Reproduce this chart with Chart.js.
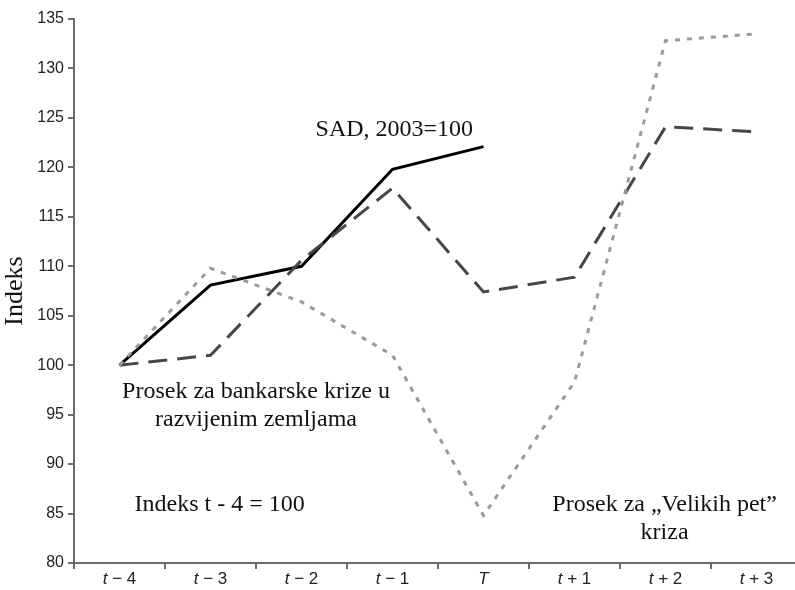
<!DOCTYPE html>
<html lang="sr">
<head>
  <meta charset="UTF-8">
  <title>Indeks - bankarske krize</title>
  <style>
    html, body {
      margin: 0;
      padding: 0;
      background: #ffffff;
      overflow: hidden;
    }
    #wrap {
      width: 810px;
      height: 590px;
    }
  </style>
  <script src="https://cdn.jsdelivr.net/npm/chart.js"></script>
</head>
<body>
  <div id="wrap">
    <canvas id="crisisChart" width="810" height="590"></canvas>
  </div>

  <script>
    // categories (years around the crisis)
    const periods = ['t − 4', 't − 3', 't − 2', 't − 1', 'T', 't + 1', 't + 2', 't + 3'];

    // series values
    const sadValues = [100, 108.1, 110.0, 119.8, 122.1];
    const bankCrisisAvg = [100, 101.0, 110.6, 117.9, 107.4, 108.9, 124.1, 123.6];
    const bigFiveAvg = [100, 109.8, 106.4, 101.0, 84.8, 98.3, 132.8, 133.5];

    const yTicks = [80, 85, 90, 95, 100, 105, 110, 115, 120, 125, 130, 135];

    const axisColor = '#6b6b6b';
    const serif = '"Liberation Serif", "Times New Roman", serif';
    const sans = '"Liberation Sans", Arial, sans-serif';

    // free text notes on the chart, placed in data coordinates (category index, value)
    const notes = [
      { lines: ['SAD, 2003=100'], at: 3.02, value: 123.8 },
      { lines: ['Prosek za bankarske krize u', 'razvijenim zemljama'], at: 1.5, value: 97.3 },
      { lines: ['Indeks t - 4 = 100'], at: 1.1, value: 85.9 },
      { lines: ['Prosek za \u201EVelikih pet\u201D', 'kriza'], at: 5.99, value: 85.9 }
    ];

    const notesPlugin = {
      id: 'notes',
      afterDatasetsDraw(chart) {
        const ctx = chart.ctx;
        const x = chart.scales.x;
        const y = chart.scales.y;
        ctx.save();
        ctx.font = '24px ' + serif;
        ctx.fillStyle = '#111';
        ctx.textAlign = 'center';
        ctx.textBaseline = 'middle';
        notes.forEach(n => {
          const px = x.getPixelForValue(n.at);
          const py = y.getPixelForValue(n.value);
          n.lines.forEach((line, i) => {
            ctx.fillText(line, px, py + i * 28);
          });
        });
        ctx.restore();
      }
    };

    // x labels: the letter t / T in italics, the rest upright
    const xLabelsPlugin = {
      id: 'xLabels',
      afterDraw(chart) {
        const ctx = chart.ctx;
        const x = chart.scales.x;
        const italic = 'italic 17px ' + sans;
        const upright = '17px ' + sans;
        ctx.save();
        ctx.fillStyle = '#222';
        ctx.textBaseline = 'middle';
        ctx.textAlign = 'left';
        periods.forEach((lab, i) => {
          const head = lab.charAt(0);
          const rest = lab.slice(1);
          ctx.font = italic;
          const w1 = ctx.measureText(head).width;
          ctx.font = upright;
          const w2 = ctx.measureText(rest).width;
          const left = x.getPixelForValue(i) - (w1 + w2) / 2;
          const py = x.top + 16;
          ctx.font = italic;
          ctx.fillText(head, left, py);
          ctx.font = upright;
          ctx.fillText(rest, left + w1, py);
        });
        ctx.restore();
      }
    };

    const ctx = document.getElementById('crisisChart').getContext('2d');
    new Chart(ctx, {
      type: 'line',
      data: {
        labels: periods,
        datasets: [
          {
            label: 'Prosek za „Velikih pet” kriza',
            data: bigFiveAvg,
            borderColor: '#9a9a9a',
            borderWidth: 3,
            borderDash: [5, 7],
            pointRadius: 0,
            tension: 0,
            fill: false
          },
          {
            label: 'Prosek za bankarske krize u razvijenim zemljama',
            data: bankCrisisAvg,
            borderColor: '#474747',
            borderWidth: 3,
            borderDash: [19, 10],
            pointRadius: 0,
            tension: 0,
            fill: false
          },
          {
            label: 'SAD, 2003=100',
            data: sadValues,
            borderColor: '#000000',
            borderWidth: 3,
            pointRadius: 0,
            tension: 0,
            fill: false
          }
        ]
      },
      options: {
        responsive: false,
        animation: false,
        layout: {
          padding: { top: 19, right: 8, bottom: 0, left: 0 }
        },
        plugins: {
          legend: { display: false },
          tooltip: { enabled: false }
        },
        scales: {
          x: {
            offset: true,
            grid: {
              offset: true,
              drawOnChartArea: false,
              drawTicks: true,
              tickLength: 6,
              color: axisColor,
              lineWidth: 2
            },
            border: { display: true, color: axisColor, width: 2 },
            ticks: { display: false },
            afterFit(scale) { scale.height = 27; }
          },
          y: {
            min: 80,
            max: 135,
            afterBuildTicks(scale) {
              scale.ticks = yTicks.map(v => ({ value: v }));
            },
            grid: {
              drawOnChartArea: false,
              drawTicks: true,
              tickLength: 6,
              color: axisColor,
              lineWidth: 2
            },
            border: { display: true, color: axisColor, width: 2 },
            ticks: {
              color: '#222',
              font: { family: sans, size: 16 },
              padding: 4
            },
            title: {
              display: true,
              text: 'Indeks',
              color: '#111',
              font: { family: serif, size: 26 },
              padding: { top: 0, bottom: 0 }
            },
            afterFit(scale) { scale.width = 74; }
          }
        }
      },
      plugins: [notesPlugin, xLabelsPlugin]
    });
  </script>
</body>
</html>
